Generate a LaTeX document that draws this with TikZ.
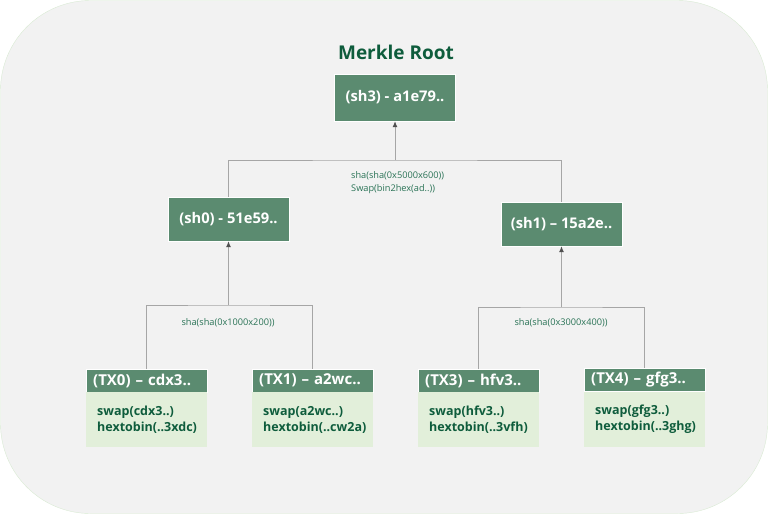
\documentclass[tikz,border=0pt]{standalone}
\usepackage{fontspec}
\setmainfont{Open Sans}
\usetikzlibrary{arrows.meta}
\definecolor{bggray}{HTML}{F2F2F2}
\definecolor{bgline}{HTML}{D9EAD3}
\definecolor{hdgreen}{HTML}{5B8B70}
\definecolor{bodygreen}{HTML}{E2EFDA}
\definecolor{darkgreen}{HTML}{0E5C3C}
\definecolor{lblgreen}{HTML}{2A7356}
\definecolor{wiregray}{HTML}{A6A6A6}
\definecolor{tipgray}{HTML}{505050}

\begin{document}
\begin{tikzpicture}[x=1pt,y=-1pt,
  hashbox/.style={draw=white,fill=hdgreen,text=white,inner sep=0pt,
    font=\bfseries\fontsize{14.7}{16}\selectfont,minimum width=121pt,minimum height=46pt},
  txhead/.style={draw=white,fill=hdgreen,text=white,anchor=north west,
    font=\bfseries\fontsize{15}{16}\selectfont,text width=107pt,align=left,
    inner xsep=7pt,inner ysep=0pt,minimum height=23pt},
  txbody/.style={fill=bodygreen,text=darkgreen,anchor=north west,
    font=\bfseries\fontsize{12.5}{16}\selectfont,text width=99pt,align=left,
    inner xsep=11pt,inner ysep=0pt,minimum height=55pt},
  lbl/.style={text=lblgreen,font=\fontsize{9.2}{13}\selectfont,inner sep=0pt},
  wire/.style={draw=wiregray,line width=0.9pt},
  up/.style={-{Latex[length=6pt,width=5pt,color=tipgray]}}]
  \useasboundingbox (0,0) rectangle (768,514);
  % ---------- background ----------
  \draw[draw=bgline,fill=bggray,rounded corners=90pt] (0.5,0.5) rectangle (767.5,513.5);
  % ---------- root ----------
  \node[text=darkgreen,font=\bfseries\fontsize{19}{22}\selectfont] (title) at (396,52) {Merkle Root};
  \node[hashbox,minimum height=47pt] (sh3) at (395,97.5) {(sh3) - a1e79..};
  % ---------- level 1 ----------
  \node[hashbox,minimum height=44pt] (sh0) at (228.5,219) {(sh0) - 51e59..};
  \node[hashbox,minimum height=44pt] (sh1) at (561.5,224) {(sh1) -- 15a2e..};
  % ---------- leaves ----------
  \node[txhead] (tx0h) at (86,369) {(TX0) -- cdx3..};
  \node[txbody] (tx0b) at (86,392) {swap(cdx3..)\\hextobin(..3xdc)};
  \node[txhead] (tx1h) at (252,369) {(TX1) -- a2wc..};
  \node[txbody] (tx1b) at (252,392) {swap(a2wc..)\\hextobin(..cw2a)};
  \node[txhead] (tx3h) at (418,369) {(TX3) -- hfv3..};
  \node[txbody] (tx3b) at (418,392) {swap(hfv3..)\\hextobin(..3vfh)};
  \node[txhead] (tx4h) at (584,368) {(TX4) -- gfg3..};
  \node[txbody] (tx4b) at (584,392) {swap(gfg3..)\\hextobin(..3ghg)};
  % ---------- joins ----------
  \coordinate (j2) at (395,160);
  \coordinate (j0) at (228.5,305);
  \coordinate (j1) at (561.5,307);
  \draw[wire] (sh0.north) |- (j2) -| (sh1.north);
  \draw[wire,up] (j2) -- (sh3.south);
  \draw[wire] (tx0h.north) |- (j0) -| (tx1h.north);
  \draw[wire,up] (j0) -- (sh0.south);
  \draw[wire] (tx3h.north) |- (j1) -| (tx4h.north);
  \draw[wire,up] (j1) -- (sh1.south);
  % ---------- hash labels ----------
  \node[lbl,anchor=north west,align=left] (l2) at (351,171) {sha(sha(0x5000x600))\\Swap(bin2hex(ad..))};
  \node[lbl] (l0) at (228,323) {sha(sha(0x1000x200))};
  \node[lbl] (l1) at (561,323) {sha(sha(0x3000x400))};
\end{tikzpicture}
\end{document}
